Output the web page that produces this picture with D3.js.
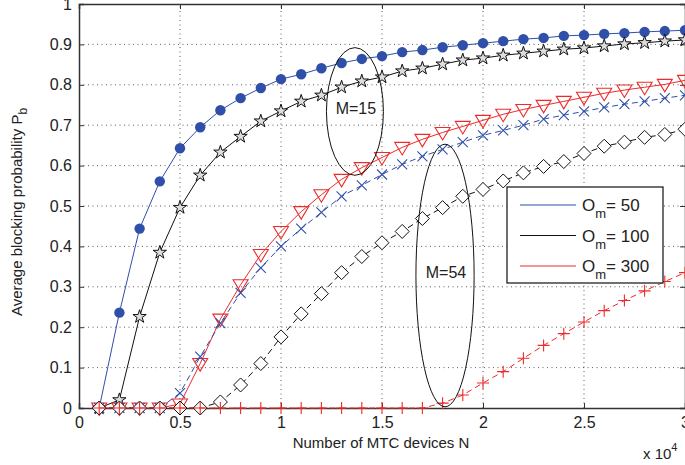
<!DOCTYPE html>
<html>
<head>
<meta charset="utf-8">
<script src="https://cdn.jsdelivr.net/npm/d3@7"></script>
<style>
body{margin:0;background:#fff;}
text{font-family:"Liberation Sans",Arial,sans-serif;}
</style>
</head>
<body>
<div id="chart"></div>
<script>
const nValues = d3.range(1,31).map(i=>i/10);   // x 10^4 devices
const xTicks = [0,0.5,1,1.5,2,2.5,3];
const yTicks = [0,0.1,0.2,0.3,0.4,0.5,0.6,0.7,0.8,0.9,1];

const m15o50  = [0,0.236,0.444,0.561,0.643,0.695,0.737,0.767,0.792,0.814,0.826,0.841,0.854,0.864,0.871,0.881,0.886,0.893,0.898,0.903,0.908,0.913,0.916,0.921,0.923,0.926,0.928,0.931,0.933,0.935];
const m15o100 = [0,0.02,0.226,0.385,0.496,0.576,0.633,0.672,0.710,0.735,0.759,0.774,0.794,0.809,0.819,0.834,0.841,0.851,0.861,0.866,0.873,0.878,0.883,0.888,0.891,0.896,0.901,0.904,0.908,0.911];
const m15o300 = [0,0,0,0,0.01,0.11,0.22,0.305,0.38,0.437,0.486,0.528,0.566,0.595,0.62,0.645,0.665,0.682,0.697,0.712,0.727,0.739,0.749,0.759,0.769,0.779,0.787,0.794,0.801,0.811];
const m54o50  = [0,0,0,0,0.037,0.127,0.21,0.285,0.347,0.40,0.444,0.484,0.524,0.551,0.578,0.603,0.623,0.64,0.658,0.675,0.687,0.70,0.715,0.725,0.734,0.744,0.752,0.759,0.767,0.774];
const m54o100 = [0,0,0,0,0,0,0.015,0.057,0.11,0.176,0.233,0.283,0.335,0.375,0.409,0.437,0.469,0.496,0.524,0.541,0.562,0.582,0.598,0.61,0.63,0.648,0.658,0.67,0.677,0.69];
const m54o300 = [0,0,0,0,0,0,0,0,0,0,0,0,0,0,0,0,0,0.012,0.032,0.062,0.09,0.123,0.155,0.184,0.213,0.241,0.266,0.29,0.313,0.335];

const legendLabels = ["50","100","300"];

const width = 685;
const height = 465;
const margin = {top:4,right:0,bottom:57,left:79};

const blue = "#2f4fa8";
const red = "#ee2a2a";
const black = "#111";

const svg = d3.select("#chart")
.append("svg")
.attr("width",width)
.attr("height",height);

const x = d3.scaleLinear()
.domain([0,3])
.range([margin.left,width-margin.right]);

const y = d3.scaleLinear()
.domain([0,1])
.range([height-margin.bottom,margin.top]);

// grid
svg.append("g")
.selectAll("line")
.data(xTicks.slice(1,-1))
.enter()
.append("line")
.attr("x1",d=>x(d)).attr("x2",d=>x(d))
.attr("y1",y(0)).attr("y2",y(1))
.attr("stroke","#333").attr("stroke-width",0.8)
.attr("stroke-dasharray","1,3.5");

svg.append("g")
.selectAll("line")
.data(yTicks.slice(1,-1))
.enter()
.append("line")
.attr("x1",x(0)).attr("x2",x(3))
.attr("y1",d=>y(d)).attr("y2",d=>y(d))
.attr("stroke","#333").attr("stroke-width",0.8)
.attr("stroke-dasharray","1,3.5");

// axes
const xAxis = svg.append("g")
.attr("transform",`translate(0,${y(0)})`)
.call(d3.axisBottom(x).tickValues(xTicks).tickSize(-5).tickPadding(9).tickFormat(d3.format("")));

const xAxisTop = svg.append("g")
.attr("transform",`translate(0,${y(1)})`)
.call(d3.axisTop(x).tickValues(xTicks).tickSize(-5).tickFormat(""));

const yAxis = svg.append("g")
.attr("transform",`translate(${x(0)},0)`)
.call(d3.axisLeft(y).tickValues(yTicks).tickSize(-5).tickPadding(7).tickFormat(d3.format("")));

const yAxisRight = svg.append("g")
.attr("transform",`translate(${x(3)},0)`)
.call(d3.axisRight(y).tickValues(yTicks).tickSize(-5).tickFormat(""));

[xAxis,xAxisTop,yAxis,yAxisRight].forEach(g=>{
    g.select(".domain").attr("stroke","#333").attr("stroke-width",1.5);
    g.selectAll(".tick line").attr("stroke","#333");
    g.selectAll("text").attr("font-size",16).attr("fill","#222")
    .style("font-family","Liberation Sans, Arial, sans-serif");
});

// labels
svg.append("text")
.attr("x",381).attr("y",448)
.attr("text-anchor","middle")
.attr("font-size",15).attr("fill","#222")
.text("Number of MTC devices N");

const x10 = svg.append("text")
.attr("x",643).attr("y",459)
.attr("font-size",15).attr("fill","#222");
x10.append("tspan").text("x 10");
x10.append("tspan").attr("dy",-8).attr("font-size",11).text("4");

const yLab = svg.append("text")
.attr("transform","translate(22,212) rotate(-90)")
.attr("text-anchor","middle")
.attr("font-size",15).attr("fill","#222");
yLab.append("tspan").text("Average blocking probability P");
yLab.append("tspan").attr("dy",5).attr("font-size",12).text("b");

// series
const series = [
    {vals:m15o50, color:blue, dash:null, marker:"circle"},
    {vals:m15o100, color:black, dash:null, marker:"star"},
    {vals:m15o300, color:red, dash:null, marker:"tri"},
    {vals:m54o50, color:blue, dash:"6,4", marker:"x"},
    {vals:m54o100, color:black, dash:"6,4", marker:"diamond"},
    {vals:m54o300, color:red, dash:"6,4", marker:"plus"}
];

const line = d3.line()
.x((d,i)=>x(nValues[i]))
.y(d=>y(d));

const starPath = d3.symbol().type(d3.symbolStar).size(55);

series.forEach(s=>{
    svg.append("path")
    .datum(s.vals)
    .attr("d",line)
    .attr("fill","none")
    .attr("stroke",s.color)
    .attr("stroke-width",1)
    .attr("stroke-dasharray",s.dash);

    const g = svg.append("g")
    .selectAll("g")
    .data(s.vals)
    .enter()
    .append("g")
    .attr("transform",(d,i)=>`translate(${x(nValues[i])},${y(d)})`);

    if(s.marker==="circle"){
        g.append("circle").attr("r",5.2).attr("fill",s.color);
    } else if(s.marker==="star"){
        g.append("path").attr("d",starPath).attr("fill","#ddd")
        .attr("stroke",s.color).attr("stroke-width",1);
    } else if(s.marker==="tri"){
        g.append("path").attr("d","M-7.5,-5L7.5,-5L0,7.5Z").attr("fill","none")
        .attr("stroke",s.color).attr("stroke-width",1.1);
    } else if(s.marker==="diamond"){
        g.append("path").attr("d","M0,-7L7,0L0,7L-7,0Z").attr("fill","#fff")
        .attr("stroke",s.color).attr("stroke-width",1);
    } else if(s.marker==="x"){
        g.append("path").attr("d","M-5,-5L5,5M-5,5L5,-5").attr("fill","none")
        .attr("stroke",s.color).attr("stroke-width",1.1);
    } else if(s.marker==="plus"){
        g.append("path").attr("d","M-6,0L6,0M0,-6L0,6").attr("fill","none")
        .attr("stroke",s.color).attr("stroke-width",1.1);
    }
});

// ellipses
const ellipses = [
    {cx:1.366, cy:0.734, rx:0.141, ry:0.158, label:"M=15"},
    {cx:1.812, cy:0.328, rx:0.144, ry:0.325, label:"M=54"}
];

ellipses.forEach(e=>{
    svg.append("ellipse")
    .attr("cx",x(e.cx)).attr("cy",y(e.cy))
    .attr("rx",x(e.rx)-x(0)).attr("ry",y(0)-y(e.ry))
    .attr("fill","none").attr("stroke","#111").attr("stroke-width",1);
    svg.append("text")
    .attr("x",x(e.cx)+1).attr("y",y(e.cy)+3)
    .attr("text-anchor","middle")
    .attr("font-size",16).attr("fill","#222")
    .text(e.label);
});

// legend
const legend = svg.append("g");
legend.append("rect")
.attr("x",507).attr("y",187)
.attr("width",156).attr("height",96)
.attr("fill","#fff").attr("stroke","#222").attr("stroke-width",1.3);

const legendColors = [blue,black,red];
legendLabels.forEach((lab,i)=>{
    const ly = 205 + i*30.5;
    legend.append("line")
    .attr("x1",520).attr("x2",576)
    .attr("y1",ly).attr("y2",ly)
    .attr("stroke",legendColors[i]).attr("stroke-width",1);
    const t = legend.append("text")
    .attr("x",582).attr("y",ly+6)
    .attr("font-size",17).attr("fill","#222");
    t.append("tspan").text("O");
    t.append("tspan").attr("dy",7).attr("font-size",13).text("m");
    t.append("tspan").attr("dy",-7).text("= "+lab);
});
</script>
</body>
</html>
